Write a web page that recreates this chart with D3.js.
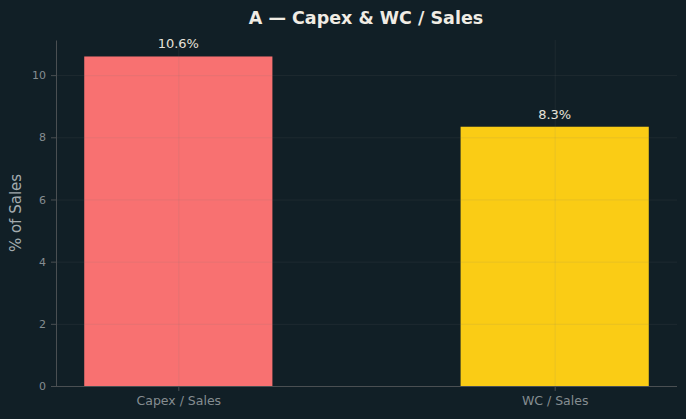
<!DOCTYPE html>
<html lang="en">
<head>
<meta charset="UTF-8">
<title>Capex & WC / Sales</title>
<script src="https://d3js.org/d3.v7.min.js"></script>
<style>
  html, body { margin: 0; padding: 0; background: #111f26; }
  svg { display: block; font-family: "DejaVu Sans", sans-serif; }
  .gridlines line { stroke: #7a7a7a; stroke-opacity: 0.16; stroke-width: 0.8; }
  .gridlines path { display: none; }
  .axis path, .axis line { stroke: #4a4f52; }
</style>
</head>
<body>
<svg id="chart" width="686" height="419"></svg>
<script>
// data
const categories = ["Capex / Sales", "WC / Sales"];
const values = [10.6, 8.34];
const barColors = ["#f87171", "#facc15"];
const yTicks = [0, 2, 4, 6, 8, 10];

const svg = d3.select("svg#chart");
const margins = {top: 40, right: 9, bottom: 33, left: 56};
const chartWidth = 686 - margins.left - margins.right;
const chartHeight = 419 - margins.top - margins.bottom;

// matplotlib-ish: bars width 0.5, x margin 5%
const xScale = d3.scaleLinear().domain([-0.325, 1.325]).range([0, chartWidth]);
const yScale = d3.scaleLinear().domain([0, d3.max(values) * 1.05]).range([chartHeight, 0]);

svg.append("rect").attr("width", 686).attr("height", 419).attr("fill", "#111f26");

let g = svg.append("g").attr("transform", "translate(" + margins.left + "," + margins.top + ")");

// bars
g.selectAll("rect.bar").data(values).join("rect")
  .attr("class", "bar")
  .attr("x", (d, i) => xScale(i - 0.25))
  .attr("width", (d, i) => xScale(i + 0.25) - xScale(i - 0.25))
  .attr("y", d => yScale(d))
  .attr("height", d => chartHeight - yScale(d))
  .attr("fill", (d, i) => barColors[i]);

// gridlines on top of bars
g.append("g").attr("class", "gridlines")
  .call(d3.axisLeft(yScale).tickValues(yTicks).tickSize(-chartWidth).tickFormat(""));
g.append("g").attr("class", "gridlines")
  .attr("transform", "translate(0," + chartHeight + ")")
  .call(d3.axisBottom(xScale).tickValues([0, 1]).tickSize(chartHeight).tickFormat(""))
  .selectAll("line").attr("y2", -chartHeight);

// axes
let yAxis = g.append("g").attr("class", "axis")
  .call(d3.axisLeft(yScale).tickValues(yTicks).tickSize(5).tickSizeOuter(0).tickPadding(5).tickFormat(d3.format("d")));
yAxis.selectAll("text").attr("fill", "#858d91").attr("font-size", "11px").attr("font-family", "DejaVu Sans");

let xAxis = g.append("g").attr("class", "axis")
  .attr("transform", "translate(0," + chartHeight + ")")
  .call(d3.axisBottom(xScale).tickValues([0, 1]).tickSize(5).tickSizeOuter(0).tickPadding(5).tickFormat(i => categories[i]));
xAxis.select("path").attr("d", "M0,0.5H" + chartWidth);
xAxis.selectAll("text").attr("fill", "#858d91").attr("font-size", "12.5px").attr("font-family", "DejaVu Sans");

// value labels
g.selectAll("text.val").data(values).join("text")
  .attr("class", "val")
  .attr("x", (d, i) => xScale(i))
  .attr("y", d => yScale(d) - 8)
  .attr("text-anchor", "middle")
  .attr("font-size", "13px")
  .attr("fill", "#e6e2da")
  .text(d => d.toFixed(1) + "%");

// title
svg.append("text")
  .attr("x", 366)
  .attr("y", 23.5)
  .attr("text-anchor", "middle")
  .attr("font-size", "17.5px")
  .attr("font-weight", "bold")
  .attr("fill", "#f0ece4")
  .text("A — Capex & WC / Sales");

// y label
svg.append("text")
  .attr("transform", "translate(21," + (margins.top + chartHeight / 2) + ") rotate(-90)")
  .attr("text-anchor", "middle")
  .attr("font-size", "15px")
  .attr("fill", "#a3abaf")
  .text("% of Sales");
</script>
</body>
</html>
